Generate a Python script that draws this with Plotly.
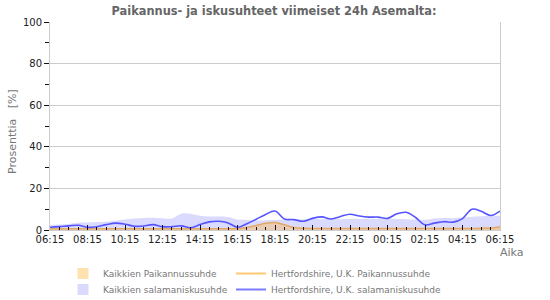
import plotly.graph_objects as go

# time in hours from 06:15
HOURS = [i * 0.5 for i in range(49)]
TICK_VALS = list(range(0, 25, 2))
TICK_LABELS = ["06:15", "08:15", "10:15", "12:15", "14:15", "16:15", "18:15",
               "20:15", "22:15", "00:15", "02:15", "04:15", "06:15"]

KAIKKI_SALAMA = [2.4, 2.6, 2.9, 3.5, 3.6, 3.8, 4.0, 4.5, 5.0, 5.5, 5.8, 5.9, 5.6, 5.5,
                 7.8, 7.8, 6.8, 6.5, 6.5, 6.3, 5.0, 4.8, 4.6, 4.7, 4.8, 5.0, 5.2, 5.0,
                 5.3, 5.2, 5.3, 5.2, 5.4, 5.3, 5.4, 5.3, 5.5, 5.3, 5.2, 5.0, 4.9, 5.5,
                 5.8, 5.7, 6.0, 6.4, 6.6, 6.8, 6.8]
HERTS_SALAMA = [1.3, 1.6, 2.0, 2.3, 1.3, 1.6, 2.6, 3.3, 2.8, 1.8, 1.9, 2.6, 1.6, 1.6,
                2.0, 1.1, 2.6, 3.9, 4.2, 3.4, 1.3, 3.0, 5.2, 7.5, 9.1, 5.3, 5.0, 4.2,
                5.6, 6.3, 5.3, 6.5, 7.6, 6.7, 6.2, 6.2, 5.6, 7.8, 8.5, 6.0, 2.5, 3.3,
                4.0, 3.8, 5.5, 10.0, 9.0, 7.0, 9.1]
KAIKKI_PAIK = [1.0] * 21 + [1.5, 2.5, 3.5, 3.9, 2.8, 1.5, 1.1] + [1.0] * 18 + [1.1, 1.3, 1.8]
HERTS_PAIK = [0.6] * 21 + [1.2, 2.2, 3.2, 3.6, 2.5, 1.2, 0.8] + [0.7] * 18 + [0.8, 1.0, 1.5]

FONT = "DejaVu Sans"
C_PAIK_FILL = "#ffe2b0"
C_SALAMA_FILL = "#dadaff"
C_PAIK_LINE = "#ffc870"
C_SALAMA_LINE = "#7a7aff"

fig = go.Figure()
# data traces (legend shown via proxies below)
fig.add_trace(go.Scatter(x=HOURS, y=KAIKKI_SALAMA, name="Kaikkien salamaniskusuhde",
                         mode="lines", fill="tozeroy", line=dict(width=0, color=C_SALAMA_FILL),
                         fillcolor=C_SALAMA_FILL, showlegend=False, line_shape="spline"))
fig.add_trace(go.Scatter(x=HOURS, y=KAIKKI_PAIK, name="Kaikkien Paikannussuhde",
                         mode="lines", fill="tozeroy", line=dict(width=0, color=C_PAIK_FILL),
                         fillcolor="rgba(236,200,160,0.8)", showlegend=False, line_shape="spline"))
fig.add_trace(go.Scatter(x=HOURS, y=HERTS_PAIK, name="Hertfordshire, U.K. Paikannussuhde",
                         mode="lines", line=dict(width=1.5, color="#e2a866"),
                         showlegend=False, line_shape="spline"))
fig.add_trace(go.Scatter(x=HOURS, y=HERTS_SALAMA, name="Hertfordshire, U.K. salamaniskusuhde",
                         mode="lines", line=dict(width=1.6, color="#5555ff"),
                         showlegend=False, line_shape="spline"))

# legend proxies, one legend per cell of the 2x2 legend grid
fig.add_trace(go.Scatter(x=[None], y=[None], mode="markers", name="Kaikkien Paikannussuhde",
                         marker=dict(symbol="square", size=11, color=C_PAIK_FILL), legend="legend"))
fig.add_trace(go.Scatter(x=[None], y=[None], mode="lines", name="Hertfordshire, U.K. Paikannussuhde",
                         line=dict(width=2, color=C_PAIK_LINE), legend="legend2"))
fig.add_trace(go.Scatter(x=[None], y=[None], mode="markers", name="Kaikkien salamaniskusuhde",
                         marker=dict(symbol="square", size=11, color=C_SALAMA_FILL), legend="legend3"))
fig.add_trace(go.Scatter(x=[None], y=[None], mode="lines", name="Hertfordshire, U.K. salamaniskusuhde",
                         line=dict(width=2, color=C_SALAMA_LINE), legend="legend4"))

leg_common = dict(xanchor="left", yanchor="top", font=dict(family=FONT, size=9, color="#777"),
                  itemwidth=30, bgcolor="rgba(0,0,0,0)", borderwidth=0)
col_x = [(63 - 50) / 450, (231 - 50) / 450]
row_y = [(230 - 259) / 208, (230 - 275) / 208]

fig.update_layout(
    width=550, height=300,
    margin=dict(l=50, r=50, t=22, b=70, autoexpand=False),
    paper_bgcolor="white", plot_bgcolor="white",
    font=dict(family=FONT, size=10, color="#222"),
    title=dict(text="<b>Paikannus- ja iskusuhteet viimeiset 24h Asemalta:</b>",
               x=274 / 550, xanchor="center", y=1 - 11 / 300, yref="container", yanchor="middle",
               font=dict(family=FONT, size=11.4, color="#666")),
    showlegend=True,
    legend=dict(x=col_x[0], y=row_y[0], **leg_common),
    legend2=dict(x=col_x[1], y=row_y[0], **leg_common),
    legend3=dict(x=col_x[0], y=row_y[1], **leg_common),
    legend4=dict(x=col_x[1], y=row_y[1], **leg_common),
    xaxis=dict(range=[0, 24], tickvals=TICK_VALS, ticktext=TICK_LABELS,
               showgrid=False, zeroline=False, showline=True, linecolor="#ccc",
               ticks="inside", ticklen=5, tickcolor="#111", tickwidth=1,
               minor=dict(dtick=0.5, ticks="inside", ticklen=3, tickcolor="#111", showgrid=False),
               tickfont=dict(size=10, color="#222")),
    yaxis=dict(range=[0, 100], tickvals=[0, 20, 40, 60, 80, 100],
               showgrid=True, gridcolor="#ccc", gridwidth=1, zeroline=False,
               showline=True, linecolor="#ccc", mirror=True,
               ticks="outside", ticklen=5, tickcolor="#111",
               minor=dict(tickvals=[10, 30, 50, 70, 90], ticks="outside", ticklen=4,
                          tickcolor="#111", showgrid=False),
               tickfont=dict(size=10, color="#222")),
    annotations=[
        dict(text="Prosenttia   [%]", textangle=-90, x=(12 - 50) / 450, y=(230 - 132) / 208,
             xref="paper", yref="paper", xanchor="center", yanchor="middle",
             showarrow=False, font=dict(family=FONT, size=11, color="#777")),
        dict(text="Aika", x=(512 - 50) / 450, y=(230 - 252) / 208, xref="paper", yref="paper",
             xanchor="center", yanchor="middle", showarrow=False,
             font=dict(family=FONT, size=11, color="#777")),
    ],
)

fig.write_html("out.html")
